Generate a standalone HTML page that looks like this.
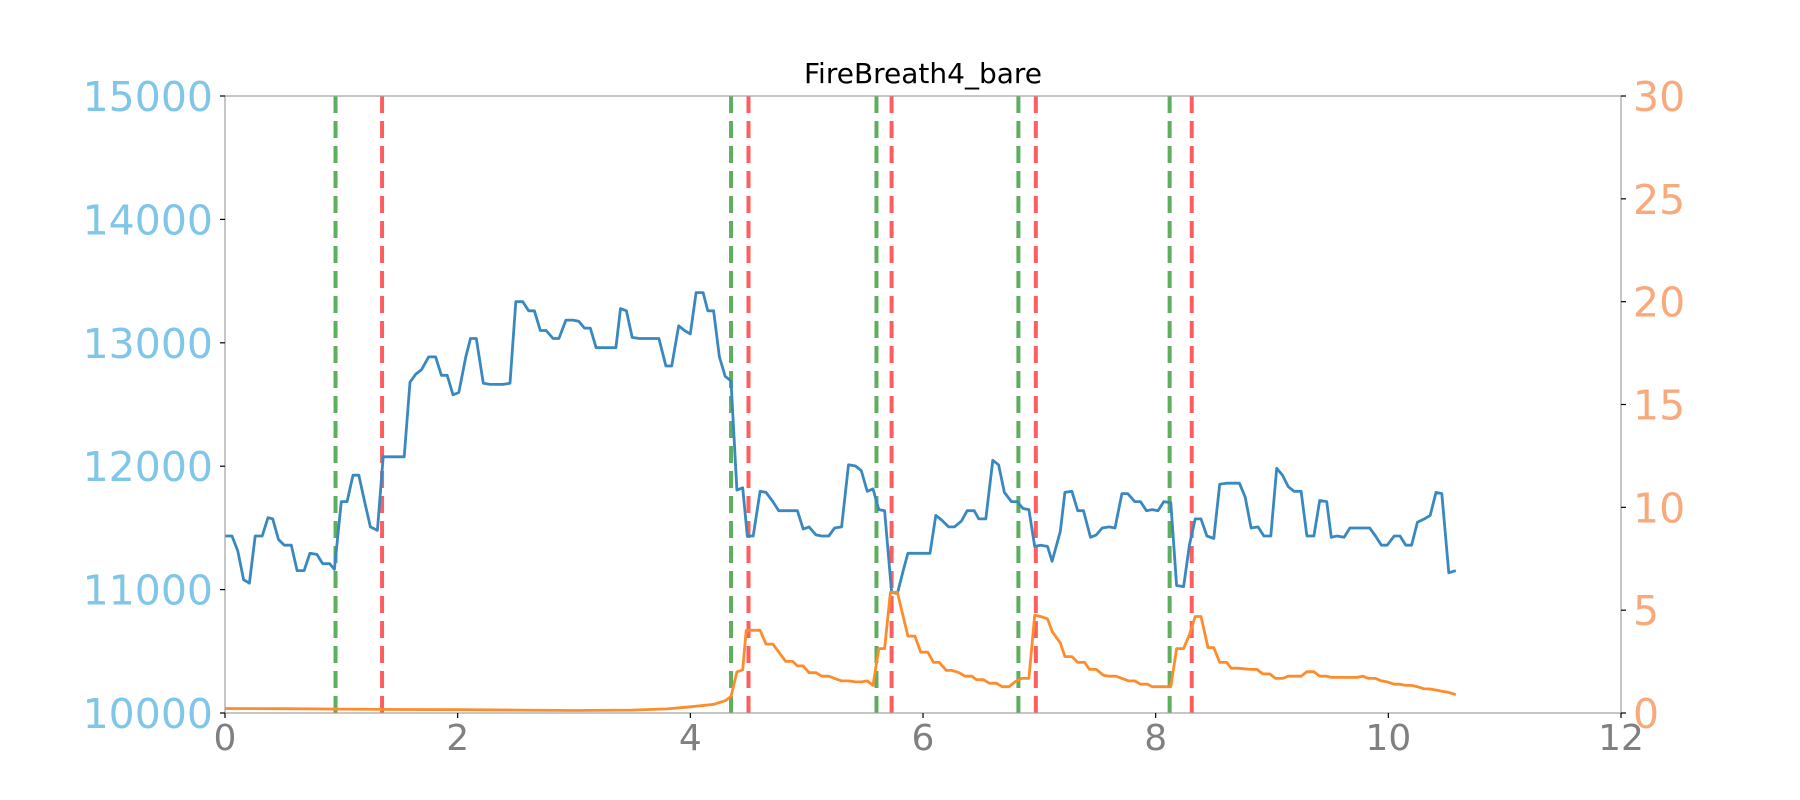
<!DOCTYPE html>
<html><head><meta charset="utf-8"><style>
html,body{margin:0;padding:0;background:#fff;}
svg{display:block;font-family:"DejaVu Sans","Liberation Sans",sans-serif;}
</style></head><body>
<svg id="chart" width="1800" height="800" xmlns="http://www.w3.org/2000/svg"></svg>
<script>
const xTicks=[0,2,4,6,8,10,12];
const leftTicks=[10000,11000,12000,13000,14000,15000];
const rightTicks=[0,5,10,15,20,25,30];
const greenLines=[0.95,4.35,5.60,6.82,8.12];
const redLines=[1.35,4.50,5.73,6.97,8.31];
const blueX=[0,.06,.11,.16,.21,.26,.32,.37,.41,.46,.51,.57,.62,.68,.73,.79,.84,.90,.94,1.00,1.05,1.10,1.15,1.20,1.25,1.31,1.36,1.42,1.48,1.54,1.59,1.64,1.69,1.75,1.81,1.86,1.91,1.96,2.01,2.07,2.11,2.16,2.22,2.28,2.34,2.39,2.45,2.50,2.56,2.61,2.66,2.71,2.76,2.82,2.87,2.93,2.99,3.04,3.09,3.14,3.19,3.25,3.31,3.36,3.40,3.45,3.50,3.56,3.62,3.68,3.73,3.79,3.84,3.90,3.95,4.00,4.05,4.11,4.15,4.20,4.25,4.30,4.35,4.40,4.45,4.49,4.54,4.60,4.65,4.71,4.76,4.82,4.88,4.92,4.97,5.02,5.08,5.13,5.19,5.24,5.30,5.36,5.42,5.47,5.52,5.57,5.62,5.67,5.73,5.78,5.83,5.87,5.93,5.98,6.06,6.11,6.16,6.22,6.27,6.33,6.38,6.44,6.48,6.54,6.60,6.65,6.70,6.76,6.81,6.86,6.91,6.96,7.01,7.07,7.11,7.18,7.22,7.28,7.33,7.38,7.44,7.49,7.54,7.60,7.65,7.71,7.76,7.82,7.87,7.92,7.97,8.02,8.07,8.13,8.18,8.24,8.29,8.34,8.39,8.44,8.50,8.55,8.61,8.67,8.72,8.77,8.82,8.88,8.93,8.99,9.04,9.09,9.14,9.19,9.25,9.30,9.36,9.41,9.47,9.51,9.56,9.62,9.67,9.73,9.78,9.84,9.89,9.94,9.99,10.05,10.10,10.15,10.20,10.25,10.31,10.36,10.41,10.46,10.52,10.58];
const blueY=[11434,11434,11313,11080,11052,11434,11434,11583,11573,11406,11360,11360,11154,11154,11294,11285,11210,11210,11164,11713,11713,11927,11927,11713,11508,11480,12076,12076,12076,12076,12681,12746,12783,12886,12886,12737,12737,12579,12597,12886,13035,13035,12672,12663,12663,12663,12672,13333,13333,13259,13259,13100,13100,13035,13035,13184,13184,13175,13119,13119,12960,12960,12960,12960,13277,13259,13044,13035,13035,13035,13035,12812,12812,13138,13100,13072,13407,13407,13259,13259,12886,12728,12691,11806,11825,11434,11434,11797,11788,11713,11639,11639,11639,11639,11490,11508,11443,11434,11434,11499,11508,12011,12002,11964,11797,11816,11648,11639,10978,10968,11154,11294,11294,11294,11294,11601,11564,11508,11508,11555,11639,11639,11573,11573,12048,12011,11788,11713,11713,11657,11648,11350,11360,11350,11229,11471,11788,11797,11639,11639,11424,11443,11499,11508,11499,11778,11778,11713,11713,11639,11648,11639,11713,11704,11033,11024,11360,11573,11573,11434,11415,11853,11862,11862,11862,11750,11499,11508,11434,11434,11983,11927,11834,11797,11797,11434,11434,11722,11713,11424,11434,11424,11499,11499,11499,11499,11434,11360,11360,11434,11434,11360,11360,11545,11573,11601,11788,11778,11136,11154];
const orangeX=[0,0.5,1.0,1.5,2.0,2.5,3.0,3.5,3.8,4.0,4.2,4.3,4.35,4.40,4.45,4.48,4.54,4.60,4.65,4.71,4.76,4.82,4.88,4.92,4.97,5.02,5.08,5.13,5.19,5.24,5.30,5.36,5.42,5.47,5.52,5.57,5.62,5.67,5.72,5.78,5.83,5.87,5.93,5.98,6.04,6.09,6.14,6.20,6.25,6.31,6.36,6.42,6.46,6.52,6.57,6.63,6.68,6.74,6.79,6.85,6.91,6.96,7.01,7.07,7.11,7.18,7.22,7.28,7.33,7.39,7.43,7.49,7.55,7.60,7.66,7.71,7.77,7.82,7.87,7.93,7.97,8.02,8.08,8.13,8.18,8.24,8.29,8.34,8.39,8.45,8.50,8.55,8.61,8.65,8.71,8.76,8.82,8.87,8.92,8.98,9.03,9.09,9.14,9.20,9.25,9.30,9.36,9.41,9.47,9.51,9.57,9.62,9.67,9.73,9.78,9.83,9.89,9.94,9.99,10.05,10.10,10.15,10.20,10.25,10.31,10.35,10.41,10.46,10.52,10.58];
const orangeY=[0.22,0.21,0.19,0.17,0.16,0.14,0.12,0.14,0.2,0.3,0.42,0.6,0.8,2.0,2.1,4.02,4.02,4.02,3.35,3.35,2.96,2.51,2.51,2.29,2.29,1.96,1.96,1.79,1.79,1.68,1.56,1.56,1.51,1.51,1.56,1.34,3.13,3.13,5.87,5.87,4.69,3.74,3.74,2.96,2.96,2.46,2.46,2.07,2.07,1.96,1.79,1.79,1.62,1.62,1.45,1.45,1.28,1.28,1.51,1.68,1.68,4.75,4.69,4.58,3.97,3.41,2.74,2.74,2.46,2.46,2.12,2.12,1.84,1.79,1.79,1.68,1.56,1.56,1.40,1.40,1.28,1.28,1.28,1.28,3.13,3.13,3.80,4.69,4.69,3.18,3.18,2.46,2.46,2.18,2.18,2.15,2.12,2.12,1.90,1.90,1.68,1.68,1.79,1.79,1.79,2.01,2.01,1.79,1.79,1.73,1.73,1.73,1.73,1.73,1.79,1.68,1.68,1.56,1.51,1.40,1.40,1.34,1.34,1.28,1.17,1.17,1.12,1.06,1.0,0.89,0.89];

const NS='http://www.w3.org/2000/svg';
const svg=document.getElementById('chart');
const X0=225,X1=1621,YT=96,YB=713;
const xs=v=>X0+(v-0)/12*(X1-X0);
const yl=v=>YB-(v-10000)/5000*(YB-YT);
const yr=v=>YB-v/30*(YB-YT);
function mk(tag,attrs,parent){const e=document.createElementNS(NS,tag);for(const k in attrs)e.setAttribute(k,attrs[k]);(parent||svg).appendChild(e);return e;}

const title=mk('text',{x:(X0+X1)/2,y:83,'text-anchor':'middle','font-size':'28',fill:'#000'});
title.textContent='FireBreath4_bare';



greenLines.forEach((v,i)=>{const l=mk('line',{x1:xs(v),x2:xs(v),y1:YT,y2:YB,stroke:'#4ca64c','stroke-width':4,'stroke-dasharray':'17 8',opacity:0.9});

});
redLines.forEach((v,i)=>{const l=mk('line',{x1:xs(v),x2:xs(v),y1:YT,y2:YB,stroke:'#ff4d4d','stroke-width':4,'stroke-dasharray':'17 8',opacity:0.9});

});

const bp=mk('polyline',{points:blueX.map((x,i)=>xs(x).toFixed(1)+','+yl(blueY[i]).toFixed(1)).join(' '),fill:'none',stroke:'#3a88c0','stroke-width':2.8,'stroke-linejoin':'round'});


const op=mk('polyline',{points:orangeX.map((x,i)=>xs(x).toFixed(1)+','+yr(orangeY[i]).toFixed(1)).join(' '),fill:'none',stroke:'#ff8c2a','stroke-width':2.8,'stroke-linejoin':'round'});



const fr=mk('rect',{x:X0,y:YT,width:X1-X0,height:YB-YT,fill:'none',stroke:'#a0a0a0','stroke-width':1.2});



xTicks.forEach(v=>{mk('line',{x1:xs(v),x2:xs(v),y1:YB,y2:YB+5,stroke:'#000','stroke-width':1.2});
const t=mk('text',{x:xs(v),y:YB+37,'text-anchor':'middle','font-size':'36',fill:'#808080'});t.textContent=v;

});
leftTicks.forEach(v=>{mk('line',{x1:X0-5,x2:X0,y1:yl(v),y2:yl(v),stroke:'#000','stroke-width':1.2});
const t=mk('text',{x:X0-12,y:yl(v)+15,'text-anchor':'end','font-size':'41',fill:'#7fc6e8'});t.textContent=v;

});
rightTicks.forEach(v=>{mk('line',{x1:X1,x2:X1+5,y1:yr(v),y2:yr(v),stroke:'#000','stroke-width':1.2});
const t=mk('text',{x:X1+12,y:yr(v)+15,'text-anchor':'start','font-size':'41',fill:'#f8aa7c'});t.textContent=v;

});
</script>
</body></html>
